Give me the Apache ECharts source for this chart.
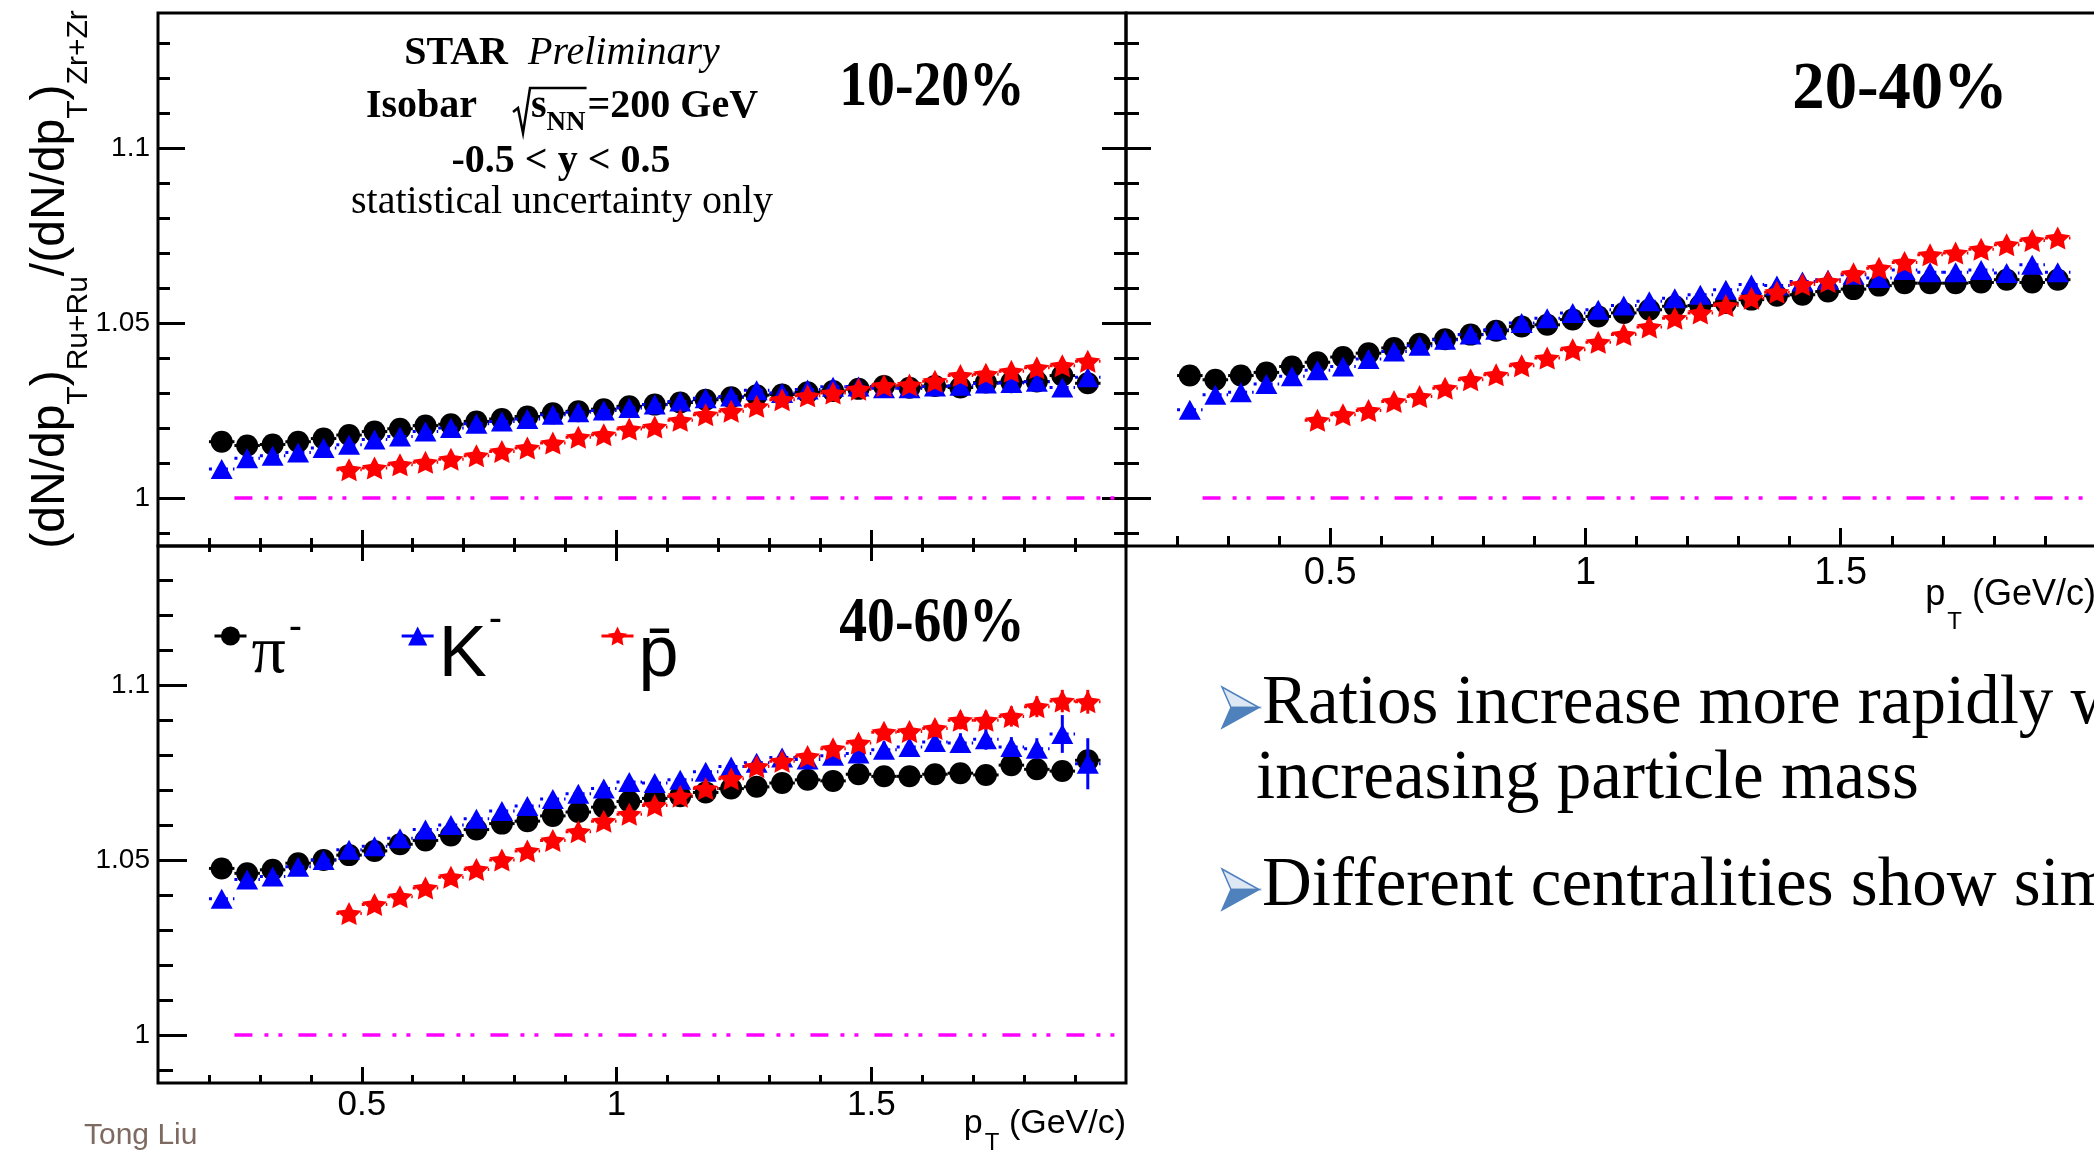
<!DOCTYPE html>
<html>
<head>
<meta charset="utf-8">
<title>Ru+Ru / Zr+Zr pT spectra ratio</title>
<script src="https://cdn.jsdelivr.net/npm/echarts@6.0.0/dist/echarts.min.js"></script>
<style>
  html, body { margin: 0; padding: 0; background: #fff; }
  #main { width: 2094px; height: 1152px; }
</style>
</head>
<body>
<div id="main"></div>
<script>
// pT bin centres (GeV/c)
const ptBins = [0.225, 0.275, 0.325, 0.375, 0.425, 0.475, 0.525, 0.575, 0.625, 0.675,
  0.725, 0.775, 0.825, 0.875, 0.925, 0.975, 1.025, 1.075, 1.125, 1.175,
  1.225, 1.275, 1.325, 1.375, 1.425, 1.475, 1.525, 1.575, 1.625, 1.675,
  1.725, 1.775, 1.825, 1.875, 1.925];
const ptBinsPbar = [0.475, 0.525, 0.575, 0.625, 0.675, 0.725, 0.775, 0.825, 0.875, 0.925,
  0.975, 1.025, 1.075, 1.125, 1.175, 1.225, 1.275, 1.325, 1.375, 1.425,
  1.475, 1.525, 1.575, 1.625, 1.675, 1.725, 1.775, 1.825, 1.875, 1.925];
const binHalfWidth = 0.025;

// 10-20%
const pi1020 = [1.0161, 1.0150, 1.0153, 1.0161, 1.0170, 1.0180, 1.0190, 1.0198, 1.0207, 1.0211,
  1.0219, 1.0226, 1.0233, 1.0242, 1.0248, 1.0254, 1.0262, 1.0267, 1.0273, 1.0281,
  1.0288, 1.0294, 1.0296, 1.0302, 1.0306, 1.0312, 1.0320, 1.0315, 1.0320, 1.0316,
  1.0330, 1.0331, 1.0333, 1.0350, 1.0328];
const k1020 = [1.0083, 1.0114, 1.0121, 1.0130, 1.0143, 1.0152, 1.0167, 1.0176, 1.0190, 1.0200,
  1.0212, 1.0219, 1.0226, 1.0238, 1.0245, 1.0250, 1.0257, 1.0267, 1.0276, 1.0285,
  1.0290, 1.0308, 1.0300, 1.0310, 1.0318, 1.0319, 1.0314, 1.0314, 1.0319, 1.0321,
  1.0327, 1.0329, 1.0332, 1.0316, 1.0345];
const pbar1020 = [1.0081, 1.0086, 1.0095, 1.0102, 1.0111, 1.0121, 1.0133, 1.0143, 1.0157, 1.0174,
  1.0181, 1.0197, 1.0203, 1.0222, 1.0238, 1.0248, 1.0262, 1.0281, 1.0292, 1.0300,
  1.0311, 1.0321, 1.0323, 1.0334, 1.0350, 1.0354, 1.0362, 1.0372, 1.0378, 1.0391];

// 20-40%
const pi2040 = [1.0350, 1.0338, 1.0350, 1.0359, 1.0376, 1.0388, 1.0403, 1.0414, 1.0429, 1.0441,
  1.0454, 1.0467, 1.0478, 1.0490, 1.0495, 1.0510, 1.0519, 1.0529, 1.0538, 1.0548,
  1.0550, 1.0557, 1.0567, 1.0578, 1.0581, 1.0590, 1.0597, 1.0607, 1.0614, 1.0614,
  1.0614, 1.0616, 1.0624, 1.0616, 1.0624];
const k2040 = [1.0252, 1.0295, 1.0302, 1.0326, 1.0348, 1.0365, 1.0376, 1.0397, 1.0419, 1.0435,
  1.0452, 1.0467, 1.0481, 1.0500, 1.0514, 1.0529, 1.0538, 1.0550, 1.0562, 1.0571,
  1.0581, 1.0595, 1.0610, 1.0607, 1.0619, 1.0624, 1.0638, 1.0629, 1.0652, 1.0645,
  1.0645, 1.0652, 1.0643, 1.0667, 1.0645];
const pbar2040 = [1.0222, 1.0238, 1.0250, 1.0276, 1.0290, 1.0314, 1.0338, 1.0352, 1.0378, 1.0400,
  1.0424, 1.0445, 1.0467, 1.0489, 1.0514, 1.0529, 1.0550, 1.0571, 1.0588, 1.0610,
  1.0619, 1.0641, 1.0657, 1.0673, 1.0695, 1.0700, 1.0711, 1.0724, 1.0736, 1.0743];

// 40-60%
const pi4060 = [1.0476, 1.0462, 1.0472, 1.0491, 1.0500, 1.0514, 1.0526, 1.0545, 1.0556, 1.0570,
  1.0587, 1.0604, 1.0611, 1.0626, 1.0637, 1.0651, 1.0667, 1.0676, 1.0682, 1.0693,
  1.0704, 1.0709, 1.0720, 1.0729, 1.0726, 1.0745, 1.0739, 1.0739, 1.0745, 1.0748,
  1.0743, 1.0771, 1.0759, 1.0754, 1.0785];
const k4060 = [1.0389, 1.0444, 1.0453, 1.0481, 1.0500, 1.0529, 1.0539, 1.0562, 1.0587, 1.0600,
  1.0618, 1.0640, 1.0654, 1.0674, 1.0689, 1.0704, 1.0723, 1.0720, 1.0729, 1.0752,
  1.0767, 1.0778, 1.0793, 1.0787, 1.0798, 1.0804, 1.0815, 1.0823, 1.0837, 1.0834,
  1.0845, 1.0823, 1.0818, 1.0860, 1.0775];
const kErr4060 = [0.0007, 0.0007, 0.0007, 0.0008, 0.0008, 0.0008, 0.0009, 0.0009, 0.0010, 0.0010,
  0.0011, 0.0011, 0.0012, 0.0012, 0.0013, 0.0013, 0.0014, 0.0015, 0.0015, 0.0016,
  0.0017, 0.0018, 0.0019, 0.0020, 0.0021, 0.0022, 0.0024, 0.0025, 0.0027, 0.0028,
  0.0030, 0.0028, 0.0030, 0.0054, 0.0073];
const pbar4060 = [1.0347, 1.0373, 1.0395, 1.0420, 1.0451, 1.0473, 1.0500, 1.0526, 1.0556, 1.0581,
  1.0611, 1.0631, 1.0656, 1.0682, 1.0704, 1.0732, 1.0767, 1.0782, 1.0796, 1.0818,
  1.0834, 1.0865, 1.0867, 1.0876, 1.0899, 1.0899, 1.0910, 1.0938, 1.0954, 1.0952];
const pbarErr4060 = [0.0008, 0.0008, 0.0009, 0.0009, 0.0010, 0.0010, 0.0011, 0.0011, 0.0012, 0.0012,
  0.0013, 0.0013, 0.0014, 0.0015, 0.0015, 0.0016, 0.0017, 0.0018, 0.0019, 0.0020,
  0.0021, 0.0022, 0.0023, 0.0024, 0.0026, 0.0027, 0.0029, 0.0030, 0.0032, 0.0034];

// unity reference line
const unity = 1;
const unityRange = [0.25, 2.0];

// axis ticks / labels
const yMajorTicks = [1, 1.05, 1.1];
const yMinorTicks = [0.99, 1.01, 1.02, 1.03, 1.04, 1.06, 1.07, 1.08, 1.09, 1.11, 1.12, 1.13];
const xMajorTicks = [0.5, 1, 1.5];
const xMinorTicks = [0.2, 0.3, 0.4, 0.6, 0.7, 0.8, 0.9, 1.1, 1.2, 1.3, 1.4, 1.6, 1.7, 1.8, 1.9];
const xRange = [0.1, 2.0];
const yRangeTop = [0.9863, 1.1386];
const yRangeBottom = [0.9863, 1.1397];

const centralities = ['10-20%', '20-40%', '40-60%'];

const SANS = 'Liberation Sans';
const SERIF = 'Liberation Serif';
const starPath = 'path://M10,0 L12.94,5.95 19.51,6.91 14.76,11.55 15.88,18.09 10,15 4.12,18.09 5.24,11.55 0.49,6.91 7.06,5.95 Z';

const species = {
  pi:   { color: '#000000', symbol: 'circle',   size: 22,       dash: null,   z: 2 },
  K:    { color: '#0000ff', symbol: 'triangle', size: [22, 20], dash: [3, 5], z: 4 },
  pbar: { color: '#ff0000', symbol: starPath,   size: [25, 23], dash: [3, 5], z: 6 }
};

const chart = echarts.init(document.getElementById('main'));

// ---- axes -------------------------------------------------------------
const xAxes = [];
const yAxes = [];
function tickAxis(gridIndex, position, range, ticks, len, extra) {
  return Object.assign({
    type: 'value', gridIndex: gridIndex, position: position,
    min: range[0], max: range[1], silent: true,
    nameMoveOverlap: false,
    axisLine: { show: false },
    splitLine: { show: false },
    axisTick: { show: true, inside: true, length: len, customValues: ticks,
      lineStyle: { color: '#000', width: 3 } },
    axisLabel: { show: false }
  }, extra || {});
}
function addX(a) { xAxes.push(a); return xAxes.length - 1; }
function addY(a) { yAxes.push(a); return yAxes.length - 1; }

const fmt = function (v) { return String(+v.toFixed(2)); };
const yLabel = { show: true, customValues: yMajorTicks, margin: 8, fontSize: 28,
  fontFamily: SANS, color: '#000', formatter: fmt };

const yTitle = {
  name: '{m|(dN/dp}{s|T}{m|)}{s|Ru+Ru}{m|/(dN/dp}{s|T}{m|)}{s|Zr+Zr}',
  nameLocation: 'middle', nameRotate: 90, nameGap: 79,
  nameTextStyle: {
    color: '#000', fontFamily: SANS,
    rich: {
      m: { fontFamily: SANS, fontSize: 48, lineHeight: 52, verticalAlign: 'top', color: '#000' },
      s: { fontFamily: SANS, fontSize: 30, lineHeight: 32, verticalAlign: 'top', padding: [37, 0, 0, 0], color: '#000' }
    }
  }
};
function xTitle(fs, subFs, padMain, padSub) {
  return {
    name: '{m|p}{s|T}{m| (GeV/c)}',
    nameLocation: 'end', nameGap: 0,
    nameTextStyle: {
      align: 'right', verticalAlign: 'top', color: '#000', fontFamily: SANS,
      rich: {
        m: { fontFamily: SANS, fontSize: fs, lineHeight: fs + 4, verticalAlign: 'top', padding: [padMain, 0, 0, 0], color: '#000' },
        s: { fontFamily: SANS, fontSize: subFs, lineHeight: subFs + 2, verticalAlign: 'top', padding: [padSub, 0, 0, 2], color: '#000' }
      }
    }
  };
}

// grid 0 : 10-20 %
const ax0 = {
  x: addX(tickAxis(0, 'bottom', xRange, xMajorTicks, 16)),
  y: addY(tickAxis(0, 'left', yRangeTop, yMajorTicks, 27, Object.assign({ axisLabel: yLabel }, yTitle)))
};
addX(tickAxis(0, 'bottom', xRange, xMinorTicks, 8));
addY(tickAxis(0, 'left', yRangeTop, yMinorTicks, 12));
addY(tickAxis(0, 'right', yRangeTop, yMajorTicks, 24));
addY(tickAxis(0, 'right', yRangeTop, yMinorTicks, 12));

// grid 1 : 20-40 %
const ax1 = {
  x: addX(tickAxis(1, 'bottom', xRange, xMajorTicks, 18, Object.assign({
    axisLabel: { show: true, customValues: xMajorTicks, margin: 9, fontSize: 38, fontFamily: SANS, color: '#000', formatter: fmt }
  }, xTitle(36, 24, 31, 64)))),
  y: addY(tickAxis(1, 'left', yRangeTop, yMajorTicks, 25))
};
addX(tickAxis(1, 'bottom', xRange, xMinorTicks, 10));
addY(tickAxis(1, 'left', yRangeTop, yMinorTicks, 13));

// grid 2 : 40-60 %
const ax2 = {
  x: addX(tickAxis(2, 'bottom', xRange, xMajorTicks, 16, Object.assign({
    axisLabel: { show: true, customValues: xMajorTicks, margin: 5, fontSize: 35, fontFamily: SANS, color: '#000', formatter: fmt }
  }, xTitle(34, 24, 24, 48)))),
  y: addY(tickAxis(2, 'left', yRangeBottom, yMajorTicks, 29, { axisLabel: yLabel }))
};
addX(tickAxis(2, 'bottom', xRange, xMinorTicks, 8));
addX(tickAxis(2, 'top', xRange, xMajorTicks, 15));
addX(tickAxis(2, 'top', xRange, xMinorTicks, 6));
addY(tickAxis(2, 'left', yRangeBottom, yMinorTicks, 15));

// ---- series -------------------------------------------------------------
function errBars(color, dash) {
  return function (params, api) {
    const x = api.value(0), y = api.value(1), e = api.value(2);
    const l = api.coord([x - binHalfWidth, y]);
    const r = api.coord([x + binHalfWidth, y]);
    const kids = [{ type: 'line', shape: { x1: l[0], y1: l[1], x2: r[0], y2: r[1] },
      style: { stroke: color, lineWidth: 3, lineDash: dash } }];
    if (e > 0) {
      const t = api.coord([x, y + e]), b = api.coord([x, y - e]);
      kids.push({ type: 'line', shape: { x1: t[0], y1: t[1], x2: b[0], y2: b[1] },
        style: { stroke: color, lineWidth: 3 } });
    }
    return { type: 'group', children: kids };
  };
}

const panels = [
  { ax: ax0, sets: { pi: [ptBins, pi1020], K: [ptBins, k1020], pbar: [ptBinsPbar, pbar1020] } },
  { ax: ax1, sets: { pi: [ptBins, pi2040], K: [ptBins, k2040], pbar: [ptBinsPbar, pbar2040] } },
  { ax: ax2, sets: { pi: [ptBins, pi4060], K: [ptBins, k4060, kErr4060], pbar: [ptBinsPbar, pbar4060, pbarErr4060] } }
];

const series = [];
panels.forEach(function (p, pi) {
  ['pi', 'K', 'pbar'].forEach(function (key) {
    const sp = species[key];
    const xs = p.sets[key][0], ys = p.sets[key][1], es = p.sets[key][2];
    series.push({
      type: 'custom', name: key + '-bars-' + pi, silent: true, clip: true,
      xAxisIndex: p.ax.x, yAxisIndex: p.ax.y, z: sp.z,
      renderItem: errBars(sp.color, sp.dash),
      encode: { x: 0, y: 1 },
      data: xs.map(function (x, i) { return [x, ys[i], es ? es[i] : 0]; })
    });
    const s = {
      type: 'line', name: key, xAxisIndex: p.ax.x, yAxisIndex: p.ax.y, z: sp.z + 1,
      color: sp.color, symbol: sp.symbol, symbolSize: sp.size, showSymbol: true, silent: true,
      lineStyle: { width: 0, opacity: 0, color: sp.color },
      itemStyle: { color: sp.color },
      data: xs.map(function (x, i) { return [x, ys[i]]; })
    };
    if (key === 'pi') {
      s.markLine = {
        silent: true, symbol: ['none', 'none'], label: { show: false }, animation: false,
        lineStyle: { color: '#ff00ff', width: 3.5, type: [18, 12, 4, 10, 4, 16], opacity: 1 },
        data: [[{ coord: [unityRange[0], unity] }, { coord: [unityRange[1], unity] }]]
      };
    }
    series.push(s);
  });
});

// ---- annotations -------------------------------------------------------
const mctx = document.createElement('canvas').getContext('2d');
function textW(str, weight, size, family) {
  mctx.font = weight + ' ' + size + 'px "' + family + '"';
  return mctx.measureText(str).width;
}
function mid(baseline, fs) { return baseline - 0.34 * fs; }
function label(x, baseline, text, fs, style, el) {
  return Object.assign({
    type: 'text', x: x, y: mid(baseline, fs), silent: true, z: 50,
    style: Object.assign({ text: text, fontSize: fs, fontFamily: SERIF, fill: '#000',
      align: 'left', verticalAlign: 'middle' }, style || {})
  }, el || {});
}

const graphics = [];
// STAR Preliminary block
graphics.push(label(562, 67, '{b|STAR}  {i|Preliminary}', 40, {
  align: 'center',
  rich: { b: { fontWeight: 'bold', fontSize: 40, fontFamily: SERIF },
          i: { fontStyle: 'italic', fontSize: 40, fontFamily: SERIF } }
}));
(function () {
  const cx = 562, base = 120;
  const wIso = textW('Isobar', 'bold', 40, SERIF);
  const wS = textW('s', 'bold', 40, SERIF);
  const wNN = textW('NN', 'bold', 27, SERIF);
  const wRest = textW('=200 GeV', 'bold', 40, SERIF);
  const gap = 38, rad = 15;
  const W = wIso + gap + rad + 1 + wS + wNN + 2 + wRest;
  const left = cx - W / 2;
  const xr = left + wIso + gap;
  graphics.push(label(left, base, 'Isobar', 40, { fontWeight: 'bold' }));
  graphics.push({
    type: 'polyline', silent: true, z: 50,
    shape: { points: [[xr - 2, base - 8], [xr + 3, base - 12], [xr + 8, base + 13], [xr + rad, base - 32], [xr + rad + 1 + wS + wNN + 1, base - 32]] },
    style: { stroke: '#000', lineWidth: 2.5, fill: null }
  });
  graphics.push(label(xr + rad + 1, base, 's', 40, { fontWeight: 'bold' }));
  graphics.push(label(xr + rad + 1 + wS, base + 12, 'NN', 27, { fontWeight: 'bold' }));
  graphics.push(label(xr + rad + 1 + wS + wNN + 2, base, '=200 GeV', 40, { fontWeight: 'bold' }));
})();
graphics.push(label(561, 175, '-0.5 < y < 0.5', 40, { align: 'center', fontWeight: 'bold' }));
graphics.push(label(562, 216, 'statistical uncertainty only', 40, { align: 'center' }));

// centrality labels
graphics.push(label(932, 110, centralities[0], 64, { align: 'center', fontWeight: 'bold' }, { scaleX: 0.87 }));
graphics.push(label(1900, 114, centralities[1], 68, { align: 'center', fontWeight: 'bold' }, { scaleX: 0.95 }));
graphics.push(label(932, 646, centralities[2], 64, { align: 'center', fontWeight: 'bold' }, { scaleX: 0.87 }));

// bullets and remarks
function bullet(bx, by) {
  graphics.push({ type: 'polygon', silent: true, z: 50,
    shape: { points: [[bx, by], [bx + 37, by + 20.5], [bx + 9, by + 20.5]] },
    style: { fill: '#dde8f4', stroke: '#4f81bd', lineWidth: 1.5 } });
  graphics.push({ type: 'polygon', silent: true, z: 50,
    shape: { points: [[bx + 9, by + 20.5], [bx + 37, by + 20.5], [bx, by + 41]] },
    style: { fill: '#4f81bd', stroke: '#4f81bd', lineWidth: 1.5 } });
}
bullet(1222, 687);
bullet(1222, 869);
graphics.push(label(1262, 728, 'Ratios increase more rapidly with', 69));
graphics.push(label(1256, 803, 'increasing particle mass', 69));
graphics.push(label(1262, 910, 'Different centralities show similar trend', 69));

graphics.push(label(84, 1146, 'Tong Liu', 30, { fontFamily: SANS, fill: '#7d6a60' }));

// ---- option -------------------------------------------------------------
const legendText = { pi: '{g|π}{gs|-}', K: '{n|K}{ns|-}', pbar: '{n|p\u0304}' };

chart.setOption({
  animation: false,
  backgroundColor: '#fff',
  textStyle: { fontFamily: SANS },
  grid: [
    { left: 158, top: 13, width: 968, height: 533, show: true, borderColor: '#000', borderWidth: 3, backgroundColor: 'transparent', containLabel: false, outerBoundsMode: 'none' },
    { left: 1126, top: 13, width: 970, height: 533, show: true, borderColor: '#000', borderWidth: 3, backgroundColor: 'transparent', containLabel: false, outerBoundsMode: 'none' },
    { left: 158, top: 546, width: 968, height: 537, show: true, borderColor: '#000', borderWidth: 3, backgroundColor: 'transparent', containLabel: false, outerBoundsMode: 'none' }
  ],
  xAxis: xAxes,
  yAxis: yAxes,
  legend: {
    data: ['pi', 'K', 'pbar'],
    left: 213, top: 600, padding: 0,
    orient: 'horizontal', itemWidth: 32, itemHeight: 24, itemGap: 98,
    selectedMode: false,
    lineStyle: { width: 3, opacity: 1, type: 'solid' },
    formatter: function (n) { return legendText[n]; },
    textStyle: {
      color: '#000',
      rich: {
        g:  { fontFamily: SERIF, fontSize: 68, lineHeight: 72, padding: [20, 0, 20, 0], verticalAlign: 'top', color: '#000' },
        gs: { fontFamily: SANS, fontSize: 40, lineHeight: 40, padding: [8, 0, 0, 3], verticalAlign: 'top', color: '#000' },
        n:  { fontFamily: SANS, fontSize: 72, lineHeight: 72, padding: [20, 0, 20, 0], verticalAlign: 'top', color: '#000' },
        ns: { fontFamily: SANS, fontSize: 40, lineHeight: 40, padding: [0, 0, 0, 2], verticalAlign: 'top', color: '#000' }
      }
    }
  },
  graphic: graphics,
  series: series
});
</script>
</body>
</html>
